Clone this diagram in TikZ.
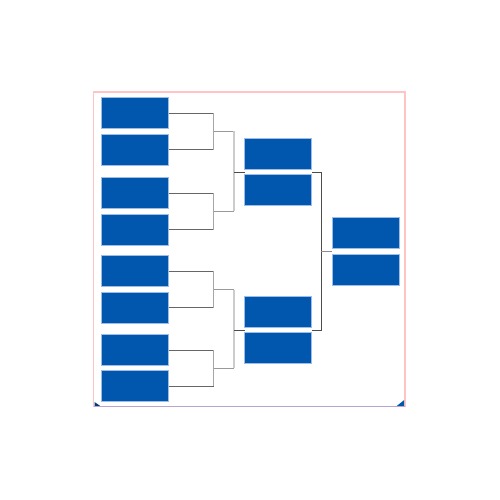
\documentclass[tikz,border=0pt]{standalone}
\usetikzlibrary{calc}
\definecolor{boxblue}{HTML}{0057AD}
\definecolor{boxedge}{HTML}{9DBDE6}
\definecolor{framepink}{HTML}{FFC4C4}
\definecolor{framebot}{HTML}{B8A4CC}
\tikzset{
  team/.style={fill=boxblue, draw=boxedge, line width=0.8pt, minimum width=67pt, minimum height=31pt, inner sep=0pt, outer sep=0pt},
  hline/.style={draw=black!60, line width=1pt},
  vline/.style={draw=black!35, line width=1.2pt},
  hline2/.style={draw=black!40, line width=1pt},
  vline2/.style={draw=black!20, line width=1.2pt},
  fline/.style={draw=black!70, line width=1pt}
}
\begin{document}
\begin{tikzpicture}[x=1pt,y=-1pt]
\useasboundingbox (0,0) rectangle (500,500);
% frame
\draw[framepink, line width=1.2pt] (93.7,406.5) -- (93.7,92) -- (405,92) -- (405,406.5);
\draw[framebot, line width=1.5pt] (93.7,406.5) -- (405,406.5);
\fill[boxblue!70!black] (94.5,405.8) -- (94.5,402) -- (100,405.8) -- cycle;
\fill[boxblue] (404.2,405.8) -- (404.2,400) -- (397,405.8) -- cycle;
% column 1
\node[team] (a1) at (135,113.2) {};
\node[team] (a2) at (135,149.7) {};
\node[team] (a3) at (135,193.2) {};
\node[team] (a4) at (135,229.7) {};
\node[team] (a5) at (135,271.2) {};
\node[team] (a6) at (135,307.8) {};
\node[team] (a7) at (135,350.0) {};
\node[team] (a8) at (135,386.3) {};
% column 2
\node[team] (b1) at (278.3,154.0) {};
\node[team] (b2) at (278.3,190.2) {};
\node[team] (b3) at (278.3,312.2) {};
\node[team] (b4) at (278.3,348.3) {};
% column 3
\node[team] (c1) at (365.5,233.0) {};
\node[team] (c2) at (365.5,269.5) {};
% first round connectors
\foreach \u/\v/\j in {a1/a2/j1,a3/a4/j2,a5/a6/j3,a7/a8/j4}{
  \draw[hline] (\u.east) -- ($(\u.east)+(45,0)$);
  \draw[hline] (\v.east) -- ($(\v.east)+(45,0)$);
  \draw[vline] ($(\u.east)+(45,0)$) -- ($(\v.east)+(45,0)$);
  \coordinate (\j) at ($(\u.east)!0.5!(\v.east)+(45,0)$);
}
% second level
\coordinate (g1) at ($(b1.south west)!0.5!(b2.north west)$);
\coordinate (g2) at ($(b3.south west)!0.5!(b4.north west)$);
\draw[hline2] (j1) -- (j1 -| 234,0);
\draw[hline2] (j2) -- (j2 -| 234,0);
\draw[vline2] (j1 -| 234,0) -- (j2 -| 234,0);
\draw[fline] (g1 -| 234,0) -- (g1);
\draw[hline2] (j3) -- (j3 -| 234,0);
\draw[hline2] (j4) -- (j4 -| 234,0);
\draw[vline2] (j3 -| 234,0) -- (j4 -| 234,0);
\draw[fline] (g2 -| 234,0) -- (g2);
% third level
\coordinate (e1) at ($(b1.south east)!0.5!(b2.north east)$);
\coordinate (e2) at ($(b3.south east)!0.5!(b4.north east)$);
\coordinate (g3) at ($(c1.south west)!0.5!(c2.north west)$);
\draw[fline] (e1) -- (e1 -| 321,0) -- (e2 -| 321,0) -- (e2);
\draw[draw=black!45, line width=1pt] (g3 -| 321,0) -- (g3);
\end{tikzpicture}
\end{document}
